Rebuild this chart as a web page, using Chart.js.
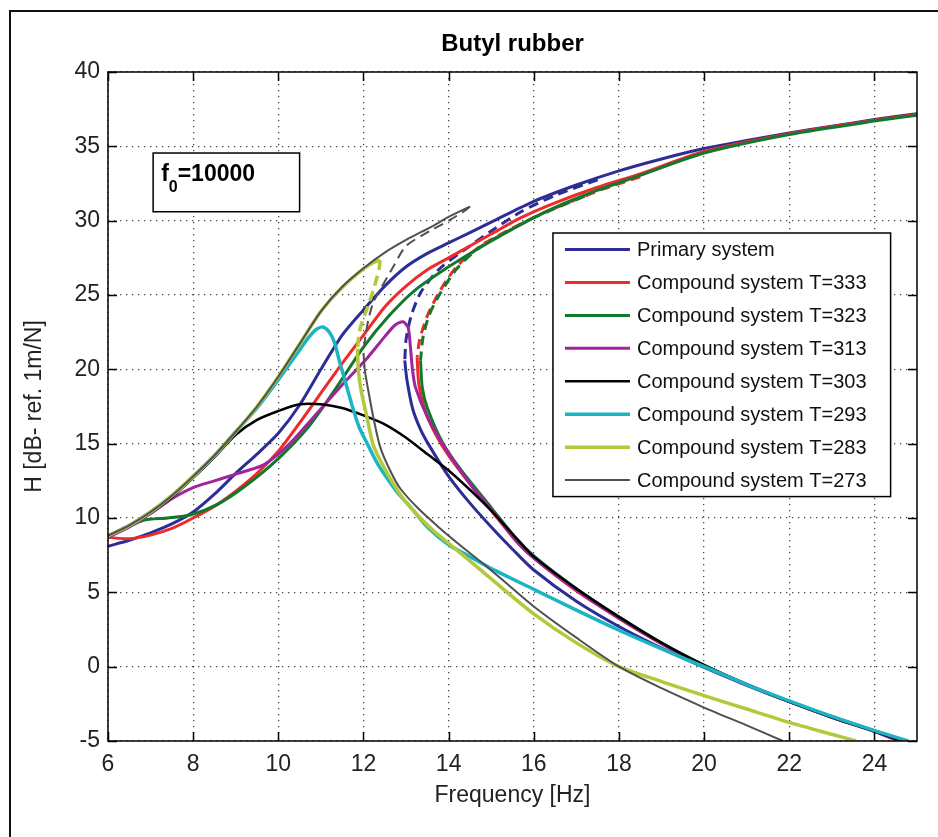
<!DOCTYPE html>
<html>
<head>
<meta charset="utf-8">
<script src="https://cdn.jsdelivr.net/npm/chart.js@4.4.0/dist/chart.umd.min.js"></script>
<style>
  html, body { margin: 0; padding: 0; background: #fff; }
  #wrap { width: 938px; height: 837px; }
</style>
</head>
<body>
<div id="wrap"><canvas id="chart" width="938" height="837"></canvas></div>
<script>
// Butyl rubber - frequency response curves (primary vs compound systems)

const FONT = '"Liberation Sans", Arial, Helvetica, sans-serif';

// ---- data: [frequency Hz, H dB] ----

// Primary system
const primaryRise = [[6,8.1],[6.5,8.5],[7,9.0],[7.5,9.6],[8,10.4],[8.5,11.6],[9,13.0],[9.5,14.3],[10,15.7],[10.5,17.6],[11,20.0],[11.5,22.3],[12,24.0],[12.5,25.6],[13,26.9],[13.5,27.8],[14,28.5],[14.5,29.2],[15,29.9],[16,31.3],[17,32.4],[18,33.35],[19,34.15],[20,34.85],[21,35.4],[22,35.9],[23,36.35],[24,36.8],[25,37.2]];
const primaryDash = [[17.5,32.75],[16.5,31.7],[15.7,30.6],[15.0,29.3],[14.5,28.3],[13.8,26.8],[13.35,25.2],[13.12,23.6],[13.0,22.0],[12.97,20.6]];
const primaryFall = [[12.97,20.6],[13.02,19.3],[13.16,17.3],[13.35,15.9],[13.56,14.8],[14,12.8],[14.5,11.0],[15,9.4],[15.5,7.9],[16,6.5],[17,4.4],[18,2.7],[19,1.25],[20,-0.05],[21,-1.25],[22,-2.35],[23,-3.35],[24,-4.3],[24.75,-5]];

// Compound system T=333
const t333Rise = [[6,8.7],[6.5,8.6],[7,8.85],[7.5,9.3],[8,10.0],[8.56,10.9],[9,11.8],[9.5,13.0],[10,14.5],[10.5,16.4],[11,18.4],[11.5,20.4],[12,22.3],[12.5,24.2],[13,25.6],[13.5,26.7],[14,27.5],[14.5,28.3],[15,29.1],[15.7,30.2],[16.5,31.2],[17.5,32.25],[18.5,33.15],[20,34.65],[22,35.85],[24,36.75],[25,37.15]];
const t333Dash = [[18.5,32.95],[17.6,32.1],[16.8,31.2],[16.1,30.35],[15.5,29.5],[14.8,28.4],[14.2,26.95],[13.8,25.3],[13.5,23.6],[13.32,22.0],[13.26,20.8]];
const t333Fall = [[13.26,20.8],[13.3,19.0],[13.45,17.2],[13.7,15.6],[14,14.2],[14.5,12.3],[15,10.5],[15.6,8.4],[16,7.3],[17,5.1],[18,3.25],[19,1.55],[20,0.05],[21,-1.2],[22,-2.35],[23,-3.4],[24,-4.35],[24.65,-5]];

// Compound system T=323
const t323Rise = [[6,8.8],[6.4,9.3],[6.83,9.85],[7.4,10.0],[7.93,10.2],[8.56,10.9],[9.2,12.1],[10,14.0],[10.7,16.1],[11.3,18.5],[12,21.5],[12.6,23.6],[13.2,25.3],[14,26.9],[14.8,28.3],[15.7,29.75],[16.5,30.9],[17.5,32.05],[18.5,33.05],[20,34.55],[22,35.8],[24,36.7],[25,37.1]];
const t323Dash = [[17.2,31.65],[16.6,30.95],[16.0,30.2],[15.4,29.3],[14.7,28.15],[14.2,26.8],[13.8,25.1],[13.55,23.7],[13.4,22.2],[13.34,20.6]];
const t323Fall = [[13.34,20.6],[13.38,18.8],[13.5,17.4],[13.87,15.0],[14.3,13.2],[15,10.7],[15.6,8.6],[16,7.45],[17,5.25],[18,3.35],[19,1.6],[20,0.1],[21,-1.2],[22,-2.35],[23,-3.4],[24,-4.35],[24.6,-5]];

// Compound system T=313
const t313Curve = [[6,8.7],[6.5,9.4],[7,10.3],[7.5,11.3],[8,12.05],[8.5,12.5],[9,12.95],[9.6,13.5],[10,14.3],[10.4,15.4],[10.8,16.7],[11.45,18.8],[12.1,20.8],[12.5,22.2],[12.75,23.0],[12.93,23.2],[13.05,22.8],[13.1,21.6],[13.15,20.0],[13.22,18.8],[13.5,16.8],[13.9,14.8],[14.5,12.3],[15,10.6],[15.6,8.4],[16,7.3],[17,5.15],[18,3.25],[19,1.55],[20,0.05],[21,-1.2],[22,-2.35],[23,-3.4],[24,-4.35],[24.55,-5]];

// Compound system T=303
const t303Curve = [[6,8.8],[6.5,9.5],[7,10.35],[7.5,11.4],[8,12.7],[8.5,14.1],[9,15.6],[9.5,16.6],[10,17.2],[10.5,17.65],[11,17.65],[11.5,17.4],[12,16.9],[12.5,16.3],[13,15.4],[13.5,14.3],[14,13.2],[14.5,11.9],[15,10.5],[15.6,8.6],[16,7.4],[17,5.25],[18,3.35],[19,1.6],[20,0.1],[21,-1.2],[22,-2.35],[23,-3.4],[24,-4.35],[24.65,-5]];

// Compound system T=293
const t293Curve = [[6,8.8],[6.5,9.5],[7,10.4],[7.5,11.5],[8,12.8],[8.5,14.2],[9,15.8],[9.5,17.4],[10,19.3],[10.4,20.9],[10.7,22.1],[10.9,22.7],[11.05,22.85],[11.2,22.5],[11.32,21.8],[11.43,20.6],[11.53,19.6],[11.65,18.4],[11.76,17.3],[11.9,16.1],[12.08,15.05],[12.3,13.8],[12.5,12.9],[12.8,11.7],[13.1,10.75],[13.5,9.4],[14,8.2],[14.5,7.4],[15,6.6],[16,5.2],[17,3.8],[18,2.45],[19,1.2],[20,0.0],[21,-1.2],[22,-2.3],[23,-3.35],[24,-4.3],[24.8,-5]];

// Compound system T=283
const t283Rise = [[6,8.8],[6.5,9.5],[7,10.4],[7.5,11.5],[8,12.8],[8.5,14.2],[9,15.8],[9.5,17.5],[10,19.5],[10.5,21.7],[11,23.9],[11.5,25.5],[12,26.75],[12.25,27.2],[12.39,27.35]];
const t283Dash = [[12.39,27.35],[12.37,26.8],[12.25,25.5],[12.1,24.2],[11.98,23.3],[11.9,22.5],[11.86,21.4]];
const t283Fall = [[11.86,21.4],[11.88,19.9],[11.95,18.5],[12.08,16.8],[12.23,14.9],[12.5,13.3],[12.86,11.6],[13.2,10.4],[13.64,9.15],[14,8.3],[14.4,7.35],[15,5.9],[16,3.55],[17,1.6],[18,0.0],[19,-1.0],[20,-1.95],[21,-2.85],[22,-3.75],[23,-4.55],[23.57,-5]];

// Compound system T=273
const t273Rise = [[6,8.8],[6.5,9.5],[7,10.4],[7.5,11.5],[8,12.8],[8.5,14.2],[9,15.8],[9.5,17.5],[10,19.5],[10.5,21.7],[11,23.9],[11.5,25.55],[12,26.8],[12.5,27.85],[13,28.7],[13.6,29.6],[14,30.25],[14.5,30.95]];
const t273Dash = [[14.5,30.95],[14.4,30.7],[14.0,30.0],[13.56,29.3],[13.0,28.3],[12.7,26.9],[12.39,25.35],[12.23,24.5],[12.12,23.4],[12.05,22.3],[12.0,21.1]];
const t273Fall = [[12.0,21.1],[12.03,20.0],[12.08,19.1],[12.23,16.8],[12.39,14.8],[12.6,13.35],[12.86,12.0],[13.3,10.6],[13.8,9.3],[14.3,8.1],[14.8,6.95],[15.2,6.0],[16,4.05],[17,1.95],[18,0.0],[19,-1.45],[20,-2.75],[21,-3.95],[21.85,-5]];

const SERIES = [
  { label: "Primary system",        color: "#2c2e96", width: 3,   solid: [primaryRise, primaryFall], dashed: [primaryDash] },
  { label: "Compound system T=333", color: "#ee2a2a", width: 3,   solid: [t333Rise, t333Fall],       dashed: [t333Dash] },
  { label: "Compound system T=323", color: "#12782c", width: 3,   solid: [t323Rise, t323Fall],       dashed: [t323Dash] },
  { label: "Compound system T=313", color: "#a0249e", width: 3,   solid: [t313Curve],                dashed: [] },
  { label: "Compound system T=303", color: "#000000", width: 2.5, solid: [t303Curve],                dashed: [] },
  { label: "Compound system T=293", color: "#1bb4c4", width: 3.5, solid: [t293Curve],                dashed: [] },
  { label: "Compound system T=283", color: "#b3c93b", width: 3.5, solid: [t283Rise, t283Fall],       dashed: [t283Dash] },
  { label: "Compound system T=273", color: "#505050", width: 2,   solid: [t273Rise, t273Fall],       dashed: [t273Dash] }
];

// annotation & legend boxes, in data units
const NOTE_BOX = { x0: 7.06, x1: 10.5, y0: 34.55, y1: 30.6 };
const LEGEND_BOX = { x0: 16.45, x1: 24.38, y0: 29.17, y1: 11.44 };

// ---- datasets ----

function dsLine(s, pts, dashed) {
  return {
    label: s.label,
    data: pts.map(([x, y]) => ({ x, y })),
    showLine: true,
    borderColor: s.color,
    backgroundColor: s.color,
    borderWidth: s.width,
    borderDash: dashed ? [10, 6] : [],
    pointRadius: 0,
    tension: 0.25,
    fill: false
  };
}

const datasets = [];
SERIES.forEach((s) => {
  s.solid.forEach(p => datasets.push(dsLine(s, p, false)));
  s.dashed.forEach(p => datasets.push(dsLine(s, p, true)));
});
// later series drawn on top (like matlab)
datasets.forEach((d, i) => { d.order = datasets.length - i; });

// ---- plugins ----

const outerFrame = {
  id: "outerFrame",
  beforeDraw(chart) {
    const c = chart.ctx;
    c.save();
    c.fillStyle = "#fff";
    c.fillRect(0, 0, chart.width, chart.height);
    c.strokeStyle = "#111";
    c.lineWidth = 2;
    c.strokeRect(10, 11, chart.width + 20, chart.height + 20);
    c.restore();
  }
};

const axesBox = {
  id: "axesBox",
  afterDatasetsDraw(chart) {
    const { ctx: c, chartArea: a, scales } = chart;
    const len = 9;
    c.save();
    c.strokeStyle = "#000";
    c.lineWidth = 1.5;
    c.beginPath();
    scales.x.ticks.forEach(t => {
      const px = Math.round(scales.x.getPixelForValue(t.value)) + 0.5;
      c.moveTo(px, a.bottom); c.lineTo(px, a.bottom - len);
      c.moveTo(px, a.top);    c.lineTo(px, a.top + len);
    });
    scales.y.ticks.forEach(t => {
      const py = Math.round(scales.y.getPixelForValue(t.value)) + 0.5;
      c.moveTo(a.left, py);  c.lineTo(a.left + len, py);
      c.moveTo(a.right, py); c.lineTo(a.right - len, py);
    });
    c.stroke();
    c.strokeRect(a.left, a.top, a.right - a.left, a.bottom - a.top);
    c.restore();
  }
};

const noteBox = {
  id: "noteBox",
  afterDraw(chart) {
    const { ctx: c, scales: { x, y } } = chart;
    const l = x.getPixelForValue(NOTE_BOX.x0), r = x.getPixelForValue(NOTE_BOX.x1);
    const t = y.getPixelForValue(NOTE_BOX.y0), b = y.getPixelForValue(NOTE_BOX.y1);
    c.save();
    c.fillStyle = "#fff";
    c.fillRect(l, t, r - l, b - t);
    c.strokeStyle = "#000";
    c.lineWidth = 1.5;
    c.strokeRect(l, t, r - l, b - t);
    c.fillStyle = "#000";
    c.textBaseline = "alphabetic";
    let cx = l + 8;
    const base = t + 28;
    c.font = "bold 23px " + FONT;
    c.fillText("f", cx, base);
    cx += c.measureText("f").width;
    c.font = "bold 16px " + FONT;
    c.fillText("0", cx, base + 11);
    cx += c.measureText("0").width;
    c.font = "bold 23px " + FONT;
    c.fillText("=10000", cx, base);
    c.restore();
  }
};

const boxLegend = {
  id: "boxLegend",
  afterDraw(chart) {
    const { ctx: c, scales: { x, y } } = chart;
    const l = x.getPixelForValue(LEGEND_BOX.x0), r = x.getPixelForValue(LEGEND_BOX.x1);
    const t = y.getPixelForValue(LEGEND_BOX.y0), b = y.getPixelForValue(LEGEND_BOX.y1);
    c.save();
    c.fillStyle = "#fff";
    c.fillRect(l, t, r - l, b - t);
    c.strokeStyle = "#000";
    c.lineWidth = 1.5;
    c.strokeRect(l, t, r - l, b - t);
    const step = (b - t) / SERIES.length;
    c.font = "20px " + FONT;
    c.textBaseline = "middle";
    SERIES.forEach((s, i) => {
      const cy = t + step * (i + 0.5);
      c.strokeStyle = s.color;
      c.lineWidth = s.width;
      c.beginPath();
      c.moveTo(l + 12, cy); c.lineTo(l + 77, cy);
      c.stroke();
      c.fillStyle = "#111";
      c.fillText(s.label, l + 84, cy + 1);
    });
    c.restore();
  }
};

// ---- chart ----

const tickFont = { family: FONT, size: 23 };

new Chart(document.getElementById("chart").getContext("2d"), {
  type: "scatter",
  data: { datasets },
  options: {
    responsive: false,
    animation: false,
    devicePixelRatio: 1,
    layout: { padding: { left: 0, right: 21, top: 0, bottom: 0 } },
    plugins: {
      legend: { display: false },
      tooltip: { enabled: false },
      title: {
        display: true,
        text: "Butyl rubber",
        fullSize: false,
        color: "#000",
        font: { family: FONT, size: 24, weight: "bold" },
        padding: { top: 29.5, bottom: 13.7 }
      }
    },
    scales: {
      x: {
        type: "linear",
        min: 6,
        max: 25,
        afterFit: (s) => { s.height = 96; },
        ticks: { stepSize: 2, includeBounds: false, padding: 10, color: "#222", font: tickFont, maxRotation: 0 },
        grid: { color: "#444", lineWidth: 1.3, drawTicks: false },
        border: { display: false, dash: [1.3, 4.7] },
        title: { display: true, text: "Frequency [Hz]", color: "#222", font: tickFont, padding: { top: 0, bottom: 28 } }
      },
      y: {
        type: "linear",
        min: -5,
        max: 40,
        afterFit: (s) => { s.width = 108; },
        ticks: { stepSize: 5, padding: 8, color: "#222", font: tickFont },
        grid: { color: "#444", lineWidth: 1.3, drawTicks: false },
        border: { display: false, dash: [1.3, 4.7] },
        title: { display: true, text: "H [dB- ref. 1m/N]", color: "#222", font: tickFont, padding: { top: 21, bottom: 0 } }
      }
    }
  },
  plugins: [outerFrame, axesBox, noteBox, boxLegend]
});
</script>
</body>
</html>
